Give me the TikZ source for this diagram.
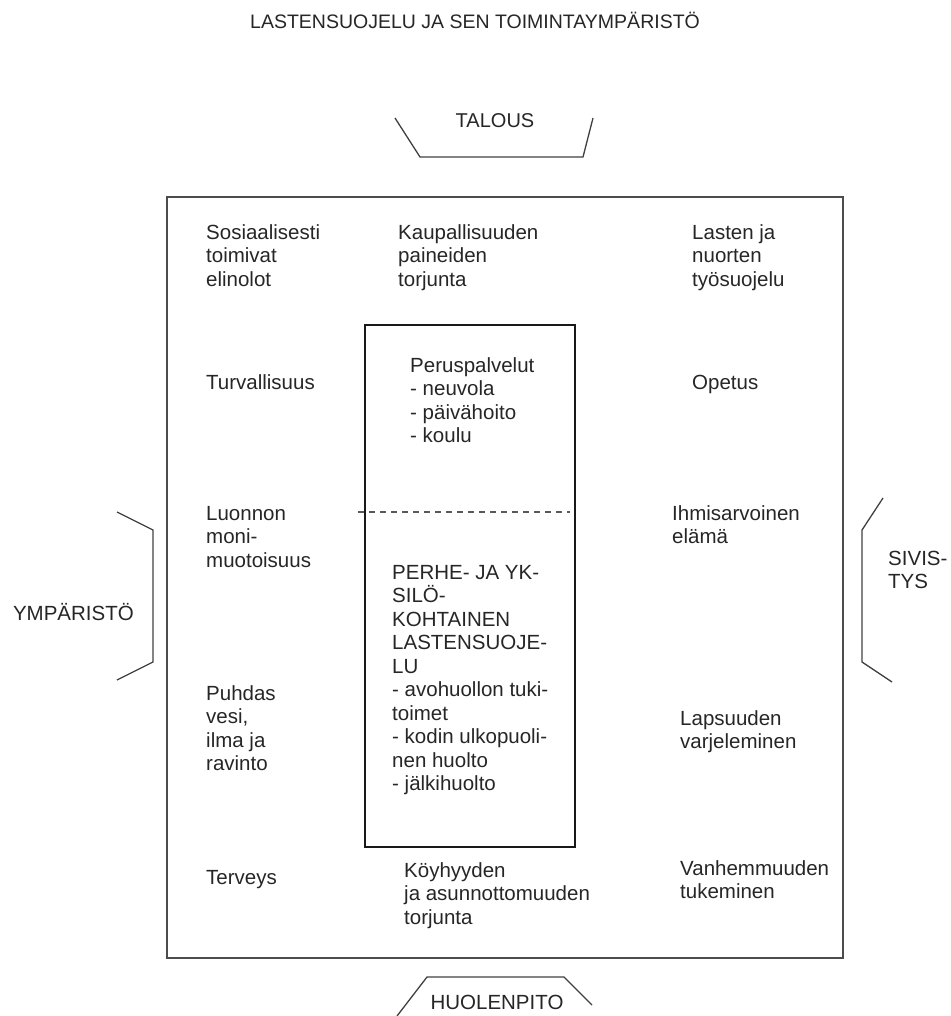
\documentclass[tikz,border=0pt]{standalone}
\usepackage{fontspec}
\setmainfont{Liberation Sans}
\begin{document}
\begin{tikzpicture}[x=1pt,y=-1pt,
  txt/.style={inner sep=0pt,align=left,text=black!85,font=\fontsize{20.5}{23.5}\selectfont},
  lbl/.style={txt,anchor=base west},
  frame/.style={draw=black!70,line width=1.6pt},
  inbox/.style={draw=black!90,line width=2.2pt},
  brk/.style={draw=black!75,line width=1.3pt}]
\useasboundingbox (0,0) rectangle (950,1016);
% title
\node[txt,anchor=base,font=\fontsize{19.5}{23}\selectfont] (title) at (475,29) {LASTENSUOJELU JA SEN TOIMINTAYMPÄRISTÖ};
% TALOUS bracket
\node[txt,anchor=base,font=\fontsize{20}{23}\selectfont] (talous) at (495,128) {TALOUS};
\draw[brk] (395,118) -- (420,157) -- (583,157) -- (593,118);
% outer frame
\draw[frame] (167,197) rectangle (843,958);
% inner box
\draw[inbox] (365,325) rectangle (575,847);
\draw[draw=black!65,line width=1.2pt,dash pattern=on 6pt off 5pt] (358,512) -- (570,512);
% left bracket
\draw[brk] (117,512) -- (153,530) -- (153,662) -- (117,680);
\node[txt,anchor=base east] (ymp) at (134,620) {YMPÄRISTÖ};
% right bracket
\draw[brk] (883,498) -- (862,530) -- (862,662) -- (892,682);
% multi-line labels: base anchor sits on the last line's baseline
\node[lbl] (sivis) at (888,588.5) {SIVIS-\\TYS};
% bottom bracket
\draw[brk] (397,1016) -- (427,977) -- (564,977) -- (592,1005);
\node[txt,anchor=base] (huolenpito) at (497,1009) {HUOLENPITO};
% texts
\node[lbl] (sos) at (206,286) {Sosiaalisesti\\toimivat\\elinolot};
\node[lbl] (kaup) at (398,286) {Kaupallisuuden\\paineiden\\torjunta};
\node[lbl] (lasten) at (692,286) {Lasten ja\\nuorten\\työsuojelu};
\node[lbl] (turv) at (206,389) {Turvallisuus};
\node[lbl] (perus) at (410,442.5) {Peruspalvelut\\- neuvola\\- päivähoito\\- koulu};
\node[lbl] (opetus) at (692,389) {Opetus};
\node[lbl] (luonnon) at (206,567) {Luonnon\\moni-\\muotoisuus};
\node[lbl] (ihmis) at (672,543.5) {Ihmisarvoinen\\elämä};
\node[lbl] (perhe) at (392,790.5) {PERHE- JA YK-\\SILÖ-\\KOHTAINEN\\LASTENSUOJE-\\LU\\- avohuollon tuki-\\toimet\\- kodin ulkopuoli-\\nen huolto\\- jälkihuolto};
\node[lbl] (puhdas) at (206,770.5) {Puhdas\\vesi,\\ilma ja\\ravinto};
\node[lbl] (lapsuus) at (680,748.5) {Lapsuuden\\varjeleminen};
\node[lbl] (terveys) at (206,884) {Terveys};
\node[lbl] (koyh) at (404,924) {Köyhyyden\\ja asunnottomuuden\\torjunta};
\node[lbl] (vanh) at (680,898.5) {Vanhemmuuden\\tukeminen};
\end{tikzpicture}
\end{document}
